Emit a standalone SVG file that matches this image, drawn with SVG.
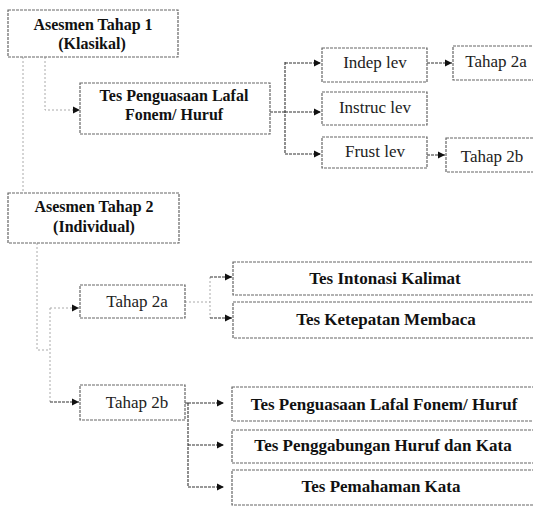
<svg xmlns="http://www.w3.org/2000/svg" width="533" height="506" viewBox="0 0 533 506">
<style>
.box{fill:#fff;stroke:#666;stroke-width:1.2;stroke-dasharray:3 1}
.b{font-family:"Liberation Serif","Times New Roman",serif;font-weight:bold;font-size:17px;fill:#111;text-anchor:middle}
.b2{font-family:"Liberation Serif","Times New Roman",serif;font-weight:bold;font-size:16px;fill:#111;text-anchor:middle}
.r{font-family:"Liberation Serif","Times New Roman",serif;font-size:17px;fill:#222;text-anchor:middle}
.c{fill:none;stroke:#333;stroke-width:1.1;stroke-dasharray:3 1}
.f{fill:none;stroke:#aaa;stroke-width:1;stroke-dasharray:2 2}
</style>
<defs>
<marker id="ah" markerWidth="8" markerHeight="8" refX="7" refY="4" orient="auto" markerUnits="userSpaceOnUse">
<path d="M0,0.5 L7,4 L0,7.5 Z" fill="#111"/>
</marker>
</defs>
<rect width="533" height="506" fill="#fff"/>
<g id="connectors">
<path class="f" d="M23,57 V192"/>
<path class="f" d="M45,57 V110 H80" marker-end="url(#ah)"/>
<path class="c" d="M270,112 H285 M285,62 V154"/>
<path class="c" d="M285,63 H321" marker-end="url(#ah)"/>
<path class="c" d="M285,112 H321" marker-end="url(#ah)"/>
<path class="c" d="M285,154 H321" marker-end="url(#ah)"/>
<path class="c" d="M427,63 H452" marker-end="url(#ah)"/>
<path class="c" d="M427,155 H445" marker-end="url(#ah)"/>
<path class="f" d="M37,243 V350 H50 M50,308 V402"/>
<path class="f" d="M50,308 H79" marker-end="url(#ah)"/>
<path class="c" d="M50,402 H79" marker-end="url(#ah)"/>
<path class="f" d="M185,302 H210 M210,277 V318"/>
<path class="c" d="M210,277 H232" marker-end="url(#ah)"/>
<path class="c" d="M210,318 H232" marker-end="url(#ah)"/>
<path class="c" d="M185,403 H188 M188,403 V487"/>
<path class="c" d="M188,403 H224" marker-end="url(#ah)"/>
<path class="c" d="M188,445 H224" marker-end="url(#ah)"/>
<path class="c" d="M188,487 H224" marker-end="url(#ah)"/>
</g>
<g id="asesmen1"><rect class="box" x="8" y="10" width="170" height="47"/><text class="b2" x="93" y="30">Asesmen Tahap 1</text><text class="b2" x="92" y="49">(Klasikal)</text></g>
<g id="tes-penguasaan1"><rect class="box" x="80" y="83" width="190" height="51"/><text class="b2" x="174" y="101">Tes Penguasaan Lafal</text><text class="b2" x="174" y="120">Fonem/ Huruf</text></g>
<g id="indep"><rect class="box" x="322" y="48" width="105" height="34"/><text class="r" x="375" y="68">Indep lev</text></g>
<g id="instruc"><rect class="box" x="322" y="92" width="105" height="33"/><text class="r" x="375" y="113">Instruc lev</text></g>
<g id="frust"><rect class="box" x="322" y="137" width="105" height="31"/><text class="r" x="375" y="157">Frust  lev</text></g>
<g id="tahap2a-top"><rect class="box" x="453" y="46" width="90" height="34"/><text class="r" x="496" y="67">Tahap 2a</text></g>
<g id="tahap2b-top"><rect class="box" x="446" y="138" width="97" height="34"/><text class="r" x="492" y="162">Tahap 2b</text></g>
<g id="asesmen2"><rect class="box" x="8" y="193" width="171" height="50"/><text class="b2" x="94" y="212">Asesmen Tahap 2</text><text class="b2" x="94" y="232">(Individual)</text></g>
<g id="tahap2a"><rect class="box" x="80" y="285" width="105" height="33"/><text class="r" x="137" y="307" font-size="19">Tahap 2a</text></g>
<g id="tahap2b"><rect class="box" x="80" y="385" width="105" height="35"/><text class="r" x="137" y="408" font-size="19">Tahap 2b</text></g>
<g id="intonasi"><rect class="box" x="233" y="262" width="310" height="33"/><text class="b" x="385" y="284">Tes Intonasi Kalimat</text></g>
<g id="ketepatan"><rect class="box" x="233" y="302" width="310" height="36"/><text class="b" x="386" y="325">Tes Ketepatan Membaca</text></g>
<g id="penguasaan2"><rect class="box" x="232" y="387" width="311" height="34"/><text class="b" x="384" y="410">Tes Penguasaan Lafal Fonem/ Huruf</text></g>
<g id="penggabungan"><rect class="box" x="232" y="430" width="311" height="33"/><text class="b" x="383" y="451">Tes Penggabungan Huruf dan Kata</text></g>
<g id="pemahaman"><rect class="box" x="232" y="470" width="311" height="35"/><text class="b" x="381" y="492">Tes Pemahaman Kata</text></g>
</svg>
